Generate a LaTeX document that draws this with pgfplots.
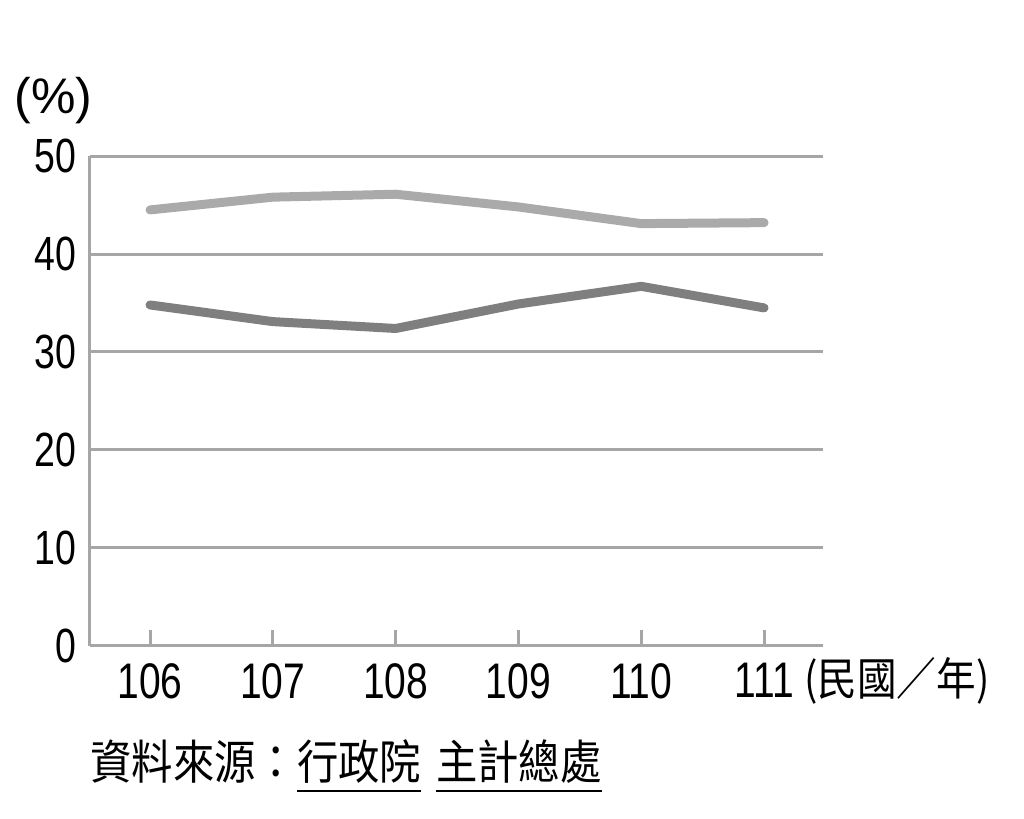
\documentclass[border=0pt]{standalone}
\usepackage{fontspec}
\usepackage{pgfplots}
\pgfplotsset{compat=1.18}
\setmainfont{Liberation Sans}
\newfontfamily\narrow{Liberation Sans}[FakeStretch=0.78]
\newfontfamily\cjk{Noto Sans CJK TC}[FakeStretch=0.88]
\definecolor{gridgray}{HTML}{A6A6A6}
\definecolor{lightline}{HTML}{AAAAAA}
\definecolor{darkline}{HTML}{7F7F7F}
\newcommand\uline[1]{\leavevmode\setbox0\hbox{#1}\rlap{\raisebox{-6pt}{\rule{\wd0}{1pt}}}\box0}

\begin{document}
\begin{tikzpicture}
\path[use as bounding box] (0,0) rectangle (512pt,409.5pt);
\begin{axis}[
    at={(45pt,86.5pt)}, anchor=south west,
    width=366.5pt, height=245pt, scale only axis,
    xmin=-0.489, xmax=5.48,
    ymin=0, ymax=50,
    axis x line*=bottom, axis y line*=left,
    axis line style={gridgray, line width=1.5pt, -},
    xtick={0,1,2,3,4,5},
    xticklabels={106,107,108,109,110,111},
    ytick={0,10,20,30,40,50},
    yticklabels={0,10,20,30,40,50},
    tick align=inside,
    x tick style={gridgray, line width=1.5pt},
    major tick length=8pt,
    y tick style={draw=none},
    ymajorgrids=true,
    grid style={gridgray, line width=1.5pt},
    xticklabel style={font=\fontsize{25}{26}\selectfont\narrow, anchor=north, inner sep=0pt, yshift=-8.5pt},
    yticklabel style={font=\fontsize{24}{25}\selectfont\narrow, anchor=east, inner sep=0pt, xshift=-6.5pt},
    clip=false,
]
\addplot[lightline, line width=4.5pt, line cap=round, line join=round] coordinates {
    (0,44.5)(1,45.8)(2,46.1)(3,44.8)(4,43.1)(5,43.2)
};
\addplot[darkline, line width=4.5pt, line cap=round, line join=round] coordinates {
    (0,34.8)(1,33.1)(2,32.4)(3,34.9)(4,36.7)(5,34.5)
};
\end{axis}
\node[inner sep=0pt] at (26.75pt,359pt) {\fontsize{25}{26}\selectfont (\%)};
\node[anchor=west, inner sep=0pt] at (402pt,69pt) {\cjk\fontsize{22.5}{23}\selectfont (民國／年)};
\node[anchor=base west, inner sep=0pt] at (45pt,19.5pt) {\cjk\fontsize{23.5}{24}\selectfont 資料來源：\uline{行政院}\hspace{7.5pt}\uline{主計總處}};
\end{tikzpicture}
\end{document}
